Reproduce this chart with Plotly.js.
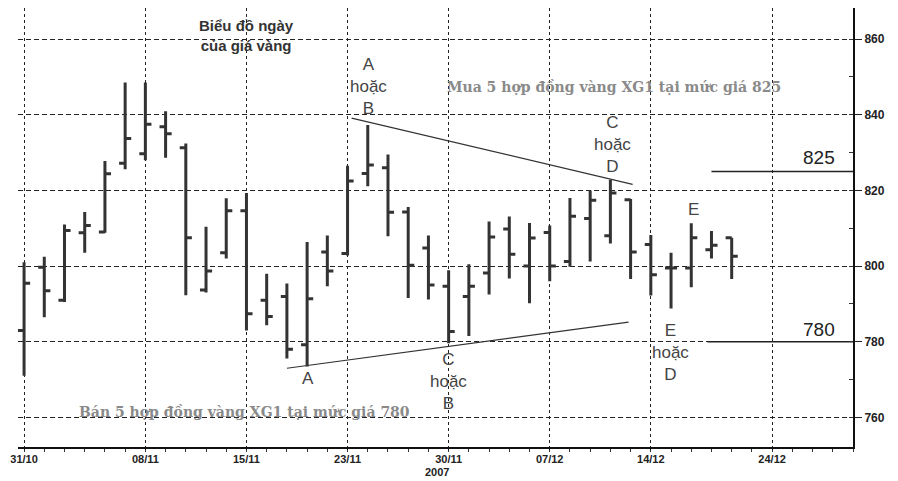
<!DOCTYPE html>
<html>
<head>
<meta charset="utf-8">
<script src="https://cdn.plot.ly/plotly-3.0.1.min.js"></script>
<style>html,body{margin:0;padding:0;background:#fff}#chart{width:898px;height:481px}</style>
</head>
<body>
<div id="chart"></div>
<script>
// Trading days shown on the axis (2007)
const dates = ['31/10','01/11','02/11','05/11','06/11','07/11','08/11','09/11','12/11','13/11','14/11','15/11','16/11','19/11','20/11','21/11','23/11','26/11','27/11','28/11','29/11','30/11','03/12','04/12','05/12','06/12','07/12','10/12','11/12','12/12','13/12','14/12','17/12','18/12','19/12','20/12','21/12','24/12'];
const labeledDates = ['31/10','08/11','15/11','23/11','30/11','07/12','14/12','24/12'];

// Daily gold price OHLC
const openP  = [783,799.7,791,808.8,809,827.2,829.7,836.8,831.3,793.7,803.5,814.6,791,792,779.2,803.7,803.3,824.5,826,814.3,804.8,794.7,792,798.2,809.8,800,808.9,801.2,812.6,808,817.5,805.7,799.5,799.5,804.3,807.5];
const highP  = [801,802.5,811,814.3,827.8,848.5,848.5,840.9,832.4,810.4,817.9,819.3,798,795.4,806.4,808.1,826.5,837.3,829.5,815.6,808.1,798.9,800.5,811.8,813.1,811.4,810.7,818,820,822.8,817.7,808.2,803.5,811.3,809.3,807.5];
const lowP   = [771,786.5,790.5,803.5,808.8,825.6,828,828.6,792.3,793,802,783,784.4,775.6,773.5,794.7,802.8,821.1,807.9,791.6,791.2,779.6,781.5,792.5,796.7,790.2,796,799.8,801.2,806,796.6,792.2,788.8,794.4,802,796.6];
const closeP = [795.5,793.5,809.4,810.7,824.4,833.7,837.5,835,807.5,798.7,814.6,787.4,786.7,778,791.4,798.7,822.5,826.7,814.2,800.2,795,782.7,794.7,807.7,803.1,807.4,800,813.2,817.4,819.3,803.7,797.7,799.5,807.5,805.5,802.6];

// Trend lines (trading-day index, price)
const upperTrendX = [16.2, 30.1], upperTrendY = [839.1, 821.6];
const lowerTrendX = [13.0, 29.9], lowerTrendY = [773.0, 785.2];
// Price levels
const levels = [825, 780];
const levelStartX = [34.0, 33.8];

const yTicks = [760, 780, 800, 820, 840, 860];

const idx = dates.map((d, i) => i);
const barX = openP.map((v, i) => idx[i]);
const tickIdx = labeledDates.map(d => dates.indexOf(d));

const dark = '#333';
const traces = [
  {type:'ohlc', x: barX, open: openP, high: highP, low: lowP, close: closeP,
   increasing:{line:{color:dark, width:3}}, decreasing:{line:{color:dark, width:3}},
   tickwidth:0.3, hoverinfo:'skip', showlegend:false},
  {type:'scatter', mode:'lines', x: upperTrendX, y: upperTrendY, line:{color:'#333', width:1.2}, hoverinfo:'skip', showlegend:false},
  {type:'scatter', mode:'lines', x: lowerTrendX, y: lowerTrendY, line:{color:'#333', width:1.2}, hoverinfo:'skip', showlegend:false}
];
levels.forEach((lv, k) => {
  traces.push({type:'scatter', mode:'lines', x:[levelStartX[k], 41], y:[lv, lv], line:{color:'#222', width:1.6}, hoverinfo:'skip', showlegend:false, cliponaxis:false});
});

const letterFont = {family:'Liberation Sans, Arial, sans-serif', size:17, color:'#444'};
const noteFont = {family:'DejaVu Serif, serif', size:14, color:'#8a8a8a', weight:'bold'};
function ann(x, y, text, font, extra) {
  return Object.assign({x:x, y:y, xref:'x', yref:'y', text:text, showarrow:false, font:font, xanchor:'center', yanchor:'middle'}, extra||{});
}
const annotations = [
  ann(11.0, 861.0, 'Biểu đồ ngày<br>của giá vàng', {family:'Liberation Sans, Arial, sans-serif', size:15, color:'#333', weight:'bold'}),
  ann(17.06, 847.4, 'A<br>hoặc<br>B', letterFont),
  ann(29.2, 847.2, 'Mua 5 hợp đồng vàng XG1 tại mức giá 825', noteFont),
  ann(29.1, 832.2, 'C<br>hoặc<br>D', letterFont),
  ann(39.3, 828.6, '825', {family:'Liberation Sans, Arial, sans-serif', size:19, color:'#222'}),
  ann(33.1, 815.0, 'E', letterFont),
  ann(31.95, 777.2, 'E<br>hoặc<br>D', letterFont),
  ann(14.05, 770.3, 'A', letterFont),
  ann(21.0, 769.5, 'C<br>hoặc<br>B', letterFont),
  ann(39.3, 783.2, '780', {family:'Liberation Sans, Arial, sans-serif', size:19, color:'#222'}),
  ann(10.9, 761.4, 'Bán 5 hợp đồng vàng XG1 tại mức giá 780', noteFont),
  {x:20.4, y:-0.058, xref:'x', yref:'paper', text:'2007', showarrow:false, xanchor:'center', yanchor:'middle',
   font:{family:'Liberation Sans, Arial, sans-serif', size:11, color:'#222', weight:'bold'}}
];

const layout = {
  width:898, height:481,
  margin:{l:18, r:45, t:8, b:34},
  paper_bgcolor:'#fff', plot_bgcolor:'#fff',
  showlegend:false,
  xaxis:{
    range:[-0.3, 41.0], tickmode:'array', tickvals:tickIdx, ticktext:labeledDates,
    showgrid:true, gridcolor:'#222', gridwidth:1, griddash:'3px,3px',
    zeroline:false, showline:true, linecolor:'#111', linewidth:2,
    ticks:'outside', ticklen:1, tickcolor:'#111',
    minor:{tickmode:'linear', tick0:0, dtick:1, ticks:'outside', ticklen:3, tickcolor:'#333', showgrid:false},
    tickfont:{family:'Liberation Sans, Arial, sans-serif', size:11, color:'#222', weight:'bold'},
    rangeslider:{visible:false}, fixedrange:true
  },
  yaxis:{
    range:[752.2, 868.2], side:'right', tickmode:'array', tickvals:yTicks,
    showgrid:true, gridcolor:'#222', gridwidth:1, griddash:'5px,3px',
    zeroline:false, showline:true, linecolor:'#111', linewidth:2,
    ticks:'outside', ticklen:7, tickcolor:'#222',
    minor:{tickmode:'linear', tick0:750, dtick:10, ticks:'inside', ticklen:4, tickcolor:'#333', showgrid:false},
    tickfont:{family:'Liberation Sans, Arial, sans-serif', size:12, color:'#222', weight:'bold'},
    fixedrange:true
  },
  annotations: annotations
};

Plotly.newPlot('chart', traces, layout, {displayModeBar:false, staticPlot:true});
</script>
</body>
</html>
